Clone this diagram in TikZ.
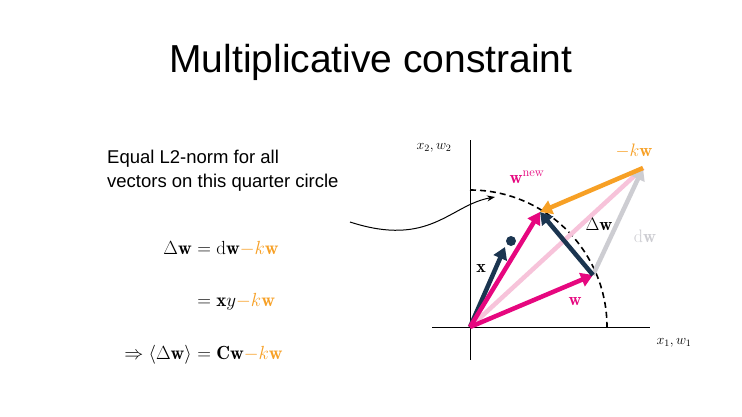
\documentclass[tikz,border=0pt]{standalone}
\usepackage{fix-cm}
\usepackage{fontspec}
\setsansfont{Liberation Sans}
\usetikzlibrary{arrows.meta}
\definecolor{mag}{HTML}{E6077F}
\definecolor{org}{HTML}{F7A025}
\definecolor{navy}{HTML}{1B3550}
\definecolor{lgray}{HTML}{CDCDD2}
\definecolor{lpink}{HTML}{F7C3DA}
\newcommand{\myfs}[1]{\fontsize{#1}{#1}\selectfont}
\tikzset{vec/.style={line width=4.5pt,-{Triangle[length=12pt,width=14pt]}},
 lbl/.style={inner sep=1pt}}
\begin{document}
\begin{tikzpicture}[x=1pt,y=-1pt]
\useasboundingbox[fill=white] (0,0) rectangle (742,416);
\node[font=\sffamily\fontsize{39}{44}\selectfont] (title) at (371,62) {Multiplicative constraint};
\coordinate (O) at (470,327);
\coordinate (xe) at (432,327); \coordinate (xa) at (650,327);
\coordinate (ye) at (470,140); \coordinate (yb) at (470,360);
\draw[line width=0.8pt] (xe) -- (xa);
\draw[line width=0.8pt] (ye) -- (yb);
\node[lbl] (yl) at (434,148) {\myfs{14}$x_2, w_2$};
\node[lbl] (xl) at (674,343) {\myfs{14}$x_1, w_1$};
\draw[line width=1.6pt,dash pattern=on 6pt off 4pt] (O) ++(90:137pt) arc[start angle=90,end angle=0,radius=137pt];
\coordinate (W) at (593,275);
\coordinate (D) at (643,168);
\coordinate (N) at (540,212);
\coordinate (X) at (505,247);
\draw[lpink,line width=4.5pt] (O) -- (D);
\draw[vec,lgray] (W) -- (D);
\draw[vec,navy] (O) -- (X);
\fill[navy] (511,241) circle (5pt) coordinate (dot);
\draw[vec,mag] (O) -- (W);
\draw[vec,mag] (O) -- (N);
\draw[vec,navy] (W) -- (N);
\draw[vec,org] (D) -- (N);
\node[lbl] (lx) at (481,268) {\myfs{18}$\mathbf{x}$};
\node[lbl,text=mag] (lwn) at (527,177) {\myfs{18}$\mathbf{w}^{\mathrm{new}}$};
\node[lbl,text=mag] (lw) at (575,302) {\myfs{18}$\mathbf{w}$};
\node[lbl] (ldw) at (599,224) {\myfs{18}$\Delta\mathbf{w}$};
\node[lbl,text=lgray] (ld) at (645,236) {\myfs{18}$\mathrm{d}\mathbf{w}$};
\node[lbl,text=org] (lk) at (634,151) {\myfs{18}$-k\mathbf{w}$};
\node[font=\sffamily\fontsize{18.5}{24}\selectfont,align=left,anchor=north west,inner sep=0pt] (ann) at (107,150) {Equal L2-norm for all\\vectors on this quarter circle};
\coordinate (as) at (350,222);
\coordinate (ae) at (495,197);
\draw[line width=1pt,-{Stealth[length=8pt]}] (as) .. controls (430,248) and (450,205) .. (ae);
\node[anchor=base east,inner sep=0pt] (e1l) at (192,254) {\myfs{19}$\Delta\mathbf{w}$};
\node[anchor=base west,inner sep=0pt] (e1r) at (192,254) {\myfs{19}${}=\mathrm{d}\mathbf{w}\textcolor{org}{-k\mathbf{w}}$};
\node[anchor=base west,inner sep=0pt] (e2r) at (192,306) {\myfs{19}${}=\mathbf{x}y\textcolor{org}{-k\mathbf{w}}$};
\node[anchor=base east,inner sep=0pt] (e3l) at (192,359) {\myfs{19}$\Rightarrow\langle\Delta\mathbf{w}\rangle$};
\node[anchor=base west,inner sep=0pt] (e3r) at (192,359) {\myfs{19}${}=\mathbf{C}\mathbf{w}\textcolor{org}{-k\mathbf{w}}$};
\end{tikzpicture}
\end{document}
